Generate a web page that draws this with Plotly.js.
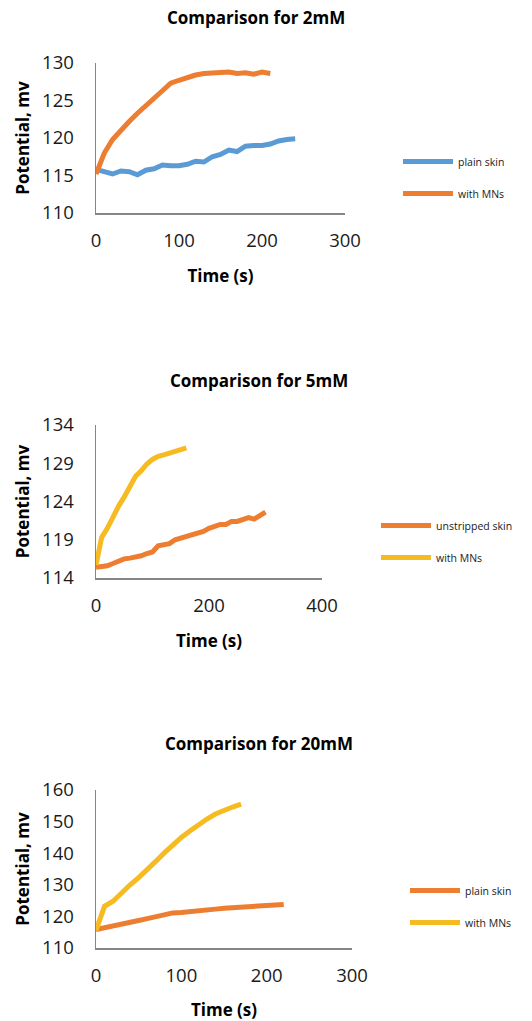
<!DOCTYPE html>
<html>
<head>
<meta charset="utf-8">
<script src="https://cdn.plot.ly/plotly-3.0.1.min.js"></script>
<style>html,body{margin:0;padding:0;background:#fff;}#chart{width:532px;height:1021px;}</style>
</head>
<body>
<div id="chart"></div>
<script>
// Chart 1: Comparison for 2mM
const time2_plain = [0,10,20,30,40,50,60,70,80,90,100,110,120,130,140,150,160,170,180,190,200,210,220,230,240];
const pot2_plain = [115.8,115.5,115.2,115.6,115.5,115.1,115.7,115.9,116.4,116.3,116.3,116.5,116.9,116.8,117.5,117.8,118.4,118.2,118.9,119.0,119.0,119.2,119.6,119.8,119.9];
const time2_mn = [0,10,20,30,40,50,60,70,80,90,100,110,120,130,140,150,160,170,180,190,200,210];
const pot2_mn = [115.2,118.0,119.8,121.1,122.2,123.3,124.4,125.3,126.3,127.3,127.7,128.1,128.4,128.6,128.7,128.7,128.8,128.6,128.7,128.5,128.8,128.6];

// Chart 2: Comparison for 5mM
const time5_unstripped = [0,10,20,30,40,50,60,70,80,90,100,110,120,130,140,150,160,170,180,190,200,210,220,230,240,250,260,270,280,290,300];
const pot5_unstripped = [115.4,115.5,115.6,115.9,116.2,116.5,116.6,116.7,116.9,117.2,117.4,118.2,118.3,118.5,119.0,119.2,119.5,119.7,119.9,120.1,120.5,120.8,121.0,121.0,121.4,121.4,121.7,121.9,121.7,122.2,122.6];
const time5_mn = [0,10,20,30,40,50,60,70,80,90,100,110,120,130,140,150,160];
const pot5_mn = [115.7,119.3,120.5,122.0,123.4,124.6,126.0,127.3,128.0,128.9,129.5,129.9,130.1,130.3,130.5,130.8,131.0];

// Chart 3: Comparison for 20mM
const time20_plain = [0,10,20,30,40,50,60,70,80,90,100,110,120,130,140,150,160,170,180,190,200,210,220];
const pot20_plain = [115.8,116.3,117.2,117.6,118.1,118.7,119.3,119.9,120.6,121.1,121.2,121.4,121.6,122.0,122.3,122.6,122.8,123.0,123.2,123.4,123.6,123.7,123.8];
const time20_mn = [0,10,20,30,40,50,60,70,80,90,100,110,120,130,140,150,160,170];
const pot20_mn = [115.6,123.2,124.8,127.6,130.0,132.3,134.6,137.4,140.1,142.7,145.0,147.0,149.0,150.8,152.4,153.6,154.6,155.5];

const titles = ["Comparison for 2mM","Comparison for 5mM","Comparison for 20mM"];
const xTitle = "Time (s)";
const yTitle = "Potential, mv";

const BLUE = "#5B9BD5", ORANGE = "#ED7D31", GOLD = "#F6BB21";
const FONT = "Open Sans, Liberation Sans, sans-serif";
const W = 532, H = 1021;
const py = p => 1 - p / H;
const px = p => p / W;

function tr(x, y, name, color, xa, ya, leg, grp) {
  return {x: x, y: y, name: name, type: "scatter", mode: "lines",
    line: {color: color, width: 5}, xaxis: xa, yaxis: ya, legend: leg, legendgroup: grp};
}

const data = [
  tr(time2_plain, pot2_plain, "plain skin", BLUE, "x", "y", "legend", "a1"),
  tr(time2_mn, pot2_mn, "with MNs", ORANGE, "x", "y", "legend", "b1"),
  tr(time5_unstripped, pot5_unstripped, "unstripped skin", ORANGE, "x2", "y2", "legend2", "a2"),
  tr(time5_mn, pot5_mn, "with MNs", GOLD, "x2", "y2", "legend2", "b2"),
  tr(time20_plain, pot20_plain, "plain skin", ORANGE, "x3", "y3", "legend3", "a3"),
  tr(time20_mn, pot20_mn, "with MNs", GOLD, "x3", "y3", "legend3", "b3")
];

function xax(domain, range, dtick, anchor) {
  return {domain: domain, range: range, dtick: dtick, tick0: 0, anchor: anchor,
    showgrid: false, zeroline: false, showline: true, linecolor: "#868686", linewidth: 1.5,
    ticks: "", ticklen: 0, ticklabelstandoff: 10, tickfont: {family: FONT, size: 18.5, color: "#1a1a1a"},
    title: {text: xTitle, font: {family: FONT, size: 17, color: "#000", weight: "bold"}, standoff: 19},
    fixedrange: true};
}
function yax(domain, range, dtick, tick0, anchor) {
  return {domain: domain, range: range, dtick: dtick, tick0: tick0, anchor: anchor,
    showgrid: false, zeroline: false, showline: true, linecolor: "#868686", linewidth: 1.5,
    ticks: "", ticklen: 0, ticklabelstandoff: 17, tickfont: {family: FONT, size: 18.5, color: "#1a1a1a"},
    title: {text: yTitle, font: {family: FONT, size: 17, color: "#000", weight: "bold"}, standoff: 8},
    fixedrange: true};
}
function leg(x, yTop) {
  return {x: px(x), y: py(yTop), xanchor: "left", yanchor: "top", bgcolor: "rgba(0,0,0,0)",
    font: {family: FONT, size: 10.5, color: "#1a1a1a"}, traceorder: "grouped", tracegroupgap: 13,
    itemwidth: 50, itemclick: false, itemdoubleclick: false};
}

const layout = {
  width: W, height: H,
  margin: {l: 0, r: 0, t: 0, b: 0},
  paper_bgcolor: "#fff", plot_bgcolor: "#fff",
  showlegend: true,
  xaxis: xax([px(96), px(345)], [0, 300], 100, "y"),
  yaxis: yax([py(213), py(63)], [110, 130], 5, 110, "x"),
  xaxis2: xax([px(96), px(322)], [0, 400], 200, "y2"),
  yaxis2: yax([py(578), py(425)], [114, 134], 5, 114, "x2"),
  xaxis3: xax([px(96), px(352)], [0, 300], 100, "y3"),
  yaxis3: yax([py(948), py(790)], [110, 160], 10, 110, "x3"),
  legend: leg(398, 147),
  legend2: leg(376, 511),
  legend3: leg(405, 876),
  annotations: titles.map((t, i) => ({
    text: "<b>" + t + "</b>", xref: "paper", yref: "paper",
    x: px([256, 259, 259][i]), y: py([18, 380, 743][i]),
    xanchor: "center", yanchor: "middle", showarrow: false,
    font: {family: FONT, size: 17, color: "#000"}
  }))
};

Plotly.newPlot("chart", data, layout, {displayModeBar: false, staticPlot: true});
</script>
</body>
</html>
